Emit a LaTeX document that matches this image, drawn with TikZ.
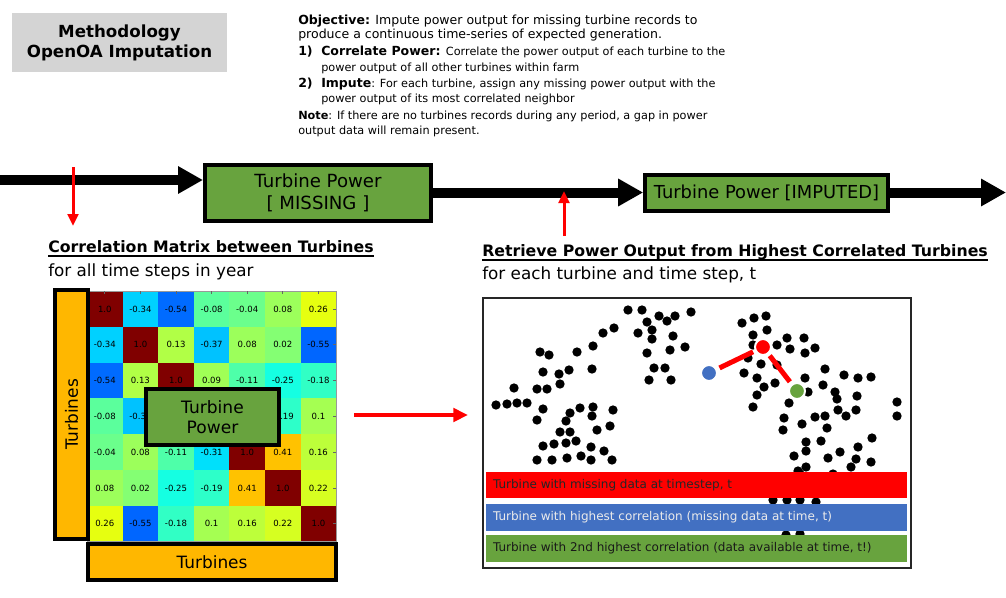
\documentclass[tikz,border=0pt]{standalone}
\usepackage{fontspec}
\setmainfont{DejaVu Sans}
\usetikzlibrary{arrows.meta}
\definecolor{ttlgray}{RGB}{212,212,212}
\definecolor{bxgreen}{RGB}{104,163,62}
\definecolor{bxorange}{RGB}{255,183,0}
\definecolor{lgblue}{RGB}{66,112,194}
\definecolor{c10}{RGB}{128,0,0}
\definecolor{cm34}{RGB}{0,209,255}
\definecolor{cm54}{RGB}{0,107,255}
\definecolor{cm55}{RGB}{0,102,255}
\definecolor{cm08}{RGB}{91,255,156}
\definecolor{cm04}{RGB}{107,255,140}
\definecolor{cp08}{RGB}{156,255,91}
\definecolor{cp26}{RGB}{230,255,16}
\definecolor{cp13}{RGB}{177,255,70}
\definecolor{cm37}{RGB}{0,194,255}
\definecolor{cp02}{RGB}{132,255,115}
\definecolor{cm11}{RGB}{78,255,169}
\definecolor{cm25}{RGB}{21,255,226}
\definecolor{cm18}{RGB}{49,255,197}
\definecolor{cp09}{RGB}{160,255,86}
\definecolor{cm31}{RGB}{0,224,251}
\definecolor{cm19}{RGB}{45,255,201}
\definecolor{cp10}{RGB}{165,255,82}
\definecolor{cp41}{RGB}{255,194,0}
\definecolor{cp16}{RGB}{189,255,58}
\definecolor{cp22}{RGB}{214,255,33}
\begin{document}
\begin{tikzpicture}[x=0.75pt,y=-0.75pt,
  txt/.style={inner sep=0pt, anchor=base west},
  objmain/.style={txt, font=\fontsize{9.4}{11}\selectfont},
  objsub/.style={txt, font=\fontsize{8.45}{10}\selectfont},
  bx/.style={draw=black, line width=3pt, inner sep=0pt, align=center},
  flow/.style={line width=7.5pt, -{Triangle[length=18.75pt,width=19.5pt]}},
  redarr/.style={draw=red, line width=2.25pt, -{Triangle[length=9pt,width=8pt]}},
  bigred/.style={draw=red, line width=3pt, -{Triangle[length=11pt,width=10pt]}},
  celltxt/.style={inner sep=0pt, font=\fontsize{6.4}{7}\selectfont},
  dot/.style={fill=black},
  hdr/.style={txt, font=\fontsize{11.8}{14}\selectfont\bfseries},
  subhdr/.style={txt, font=\fontsize{12.6}{14}\selectfont},
  lgbar/.style={inner sep=0pt, minimum width=315.75pt, minimum height=20pt},
  lgtxt/.style={inner sep=0pt, anchor=west, font=\fontsize{9}{10}\selectfont},
  cdot/.style={circle, draw=white, line width=1.5pt, inner sep=0pt, minimum size=12pt}
]
\useasboundingbox (0,0) rectangle (1006,597);
\fill[white] (0,0) rectangle (1006,597);

% title
\node[fill=ttlgray, minimum width=161.25pt, minimum height=44.25pt, inner sep=0pt, align=center,
  font=\fontsize{12.5}{15}\selectfont\bfseries] (title) at (119.5,42.5) {Methodology\\OpenOA Imputation};

% objective text
\node[objmain] (o1) at (298,24) {\textbf{Objective:} Impute power output for missing turbine records to};
\node[objmain] (o2) at (298,38.3) {produce a continuous time-series of expected generation.};
\node[objmain, font=\fontsize{9.4}{11}\selectfont\bfseries] (o3a) at (298,55.7) {1)};
\node[objmain] (o3) at (321,55.7) {\textbf{Correlate Power:} {\fontsize{8.45}{10}\selectfont Correlate the power output of each turbine to the}};
\node[objsub] (o4) at (321,71) {power output of all other turbines within farm};
\node[objmain, font=\fontsize{9.4}{11}\selectfont\bfseries] (o5a) at (298,87.3) {2)};
\node[objmain] (o5) at (321,87.3) {\textbf{Impute}{\fontsize{8.45}{10}\selectfont: For each turbine, assign any missing power output with the}};
\node[objsub] (o6) at (321,102.7) {power output of its most correlated neighbor};
\node[objsub] (o7) at (298,119.3) {\textbf{Note}: If there are no turbines records during any period, a gap in power};
\node[objsub] (o8) at (298,134.3) {output data will remain present.};

% flow boxes
\node[bx, fill=bxgreen, minimum width=169.5pt, minimum height=42pt, font=\fontsize{13.6}{16.5}\selectfont] (miss) at (318,193) {Turbine Power\\{}[ MISSING ]};
\node[bx, fill=bxgreen, minimum width=182pt, minimum height=27pt, font=\fontsize{13.4}{15}\selectfont] (imp) at (766.5,192.5) {Turbine Power [IMPUTED]};
\coordinate (fstart) at (0,180);
\coordinate (fend) at (1006,192.5);
\draw[flow] (fstart) -- (fstart -| miss.west);
\draw[flow] (miss.east |- imp.west) -- (imp.west);
\draw[flow] (imp.east) -- (fend);

% red vertical arrows
\coordinate (rd1) at (73,167);
\coordinate (rd2) at (73,226);
\draw[redarr] (rd1) -- (rd2);
\coordinate (ru1) at (564,236);
\coordinate (ru2) at (564,191);
\draw[redarr] (ru1) -- (ru2);

% headings
\node[hdr] (h1) at (48,252.7) {Correlation Matrix between Turbines};
\draw[line width=1.5pt] ([yshift=-2.4pt]h1.base west) -- ([yshift=-2.4pt]h1.base east);
\node[subhdr] (h1s) at (48,276) {for all time steps in year};
\node[hdr] (h2) at (482,256.7) {Retrieve Power Output from Highest Correlated Turbines};
\draw[line width=1.5pt] ([yshift=-2.4pt]h2.base west) -- ([yshift=-2.4pt]h2.base east);
\node[subhdr] (h2s) at (482,279) {for each turbine and time step, t};

% heatmap (labels fully hidden by the box are left empty)
\foreach \row [count=\i] in {
  {c10/1.0,cm34/-0.34,cm54/-0.54,cm08/-0.08,cm04/-0.04,cp08/0.08,cp26/0.26},
  {cm34/-0.34,c10/1.0,cp13/0.13,cm37/-0.37,cp08/0.08,cp02/0.02,cm55/-0.55},
  {cm54/-0.54,cp13/0.13,c10/1.0,cp09/0.09,cm11/-0.11,cm25/-0.25,cm18/-0.18},
  {cm08/-0.08,cm37/-0.37,cp09/{},c10/{},cm31/{},cm19/-0.19,cp10/0.1},
  {cm04/-0.04,cp08/0.08,cm11/-0.11,cm31/-0.31,c10/1.0,cp41/0.41,cp16/0.16},
  {cp08/0.08,cp02/0.02,cm25/-0.25,cm19/-0.19,cp41/0.41,c10/1.0,cp22/0.22},
  {cp26/0.26,cm55/-0.55,cm18/-0.18,cp10/0.1,cp16/0.16,cp22/0.22,c10/1.0}} {
  \foreach \cc/\vv [count=\j] in \row {
    \fill[\cc] ({87+(\j-1)*35.6},{291+(\i-1)*35.8}) rectangle ++(35.6,35.8);
    \node[celltxt] at ({87+(\j-0.5)*35.6},{291+(\i-0.5)*35.8}) {\vv};
  }
}
\draw[black!40, line width=0.5pt] (87,291) rectangle (336.2,541.6);
\foreach \j in {1,...,7} {
  \draw[black!60, line width=0.5pt] ({87+(\j-0.5)*35.6},291) -- ++(0,3);
  \draw[black!60, line width=0.5pt] (336.2,{291+(\j-0.5)*35.8}) -- ++(-3,0);
}

% axis boxes
\node[bx, fill=bxorange, minimum width=24.75pt, minimum height=186.75pt] (tl) at (71.5,414.5) {};
\node[rotate=90, font=\fontsize{12.7}{14}\selectfont] (tlt) at (tl.center) {Turbines};
\node[bx, fill=bxorange, minimum width=186pt, minimum height=27pt, font=\fontsize{12.7}{14}\selectfont] (tb) at (212,562) {Turbines};
\node[bx, fill=bxgreen, minimum width=99.75pt, minimum height=42pt, font=\fontsize{12.8}{15.5}\selectfont] (tp) at (212.5,417) {Turbine\\Power};

% arrow to scatter
\coordinate (ra1) at (354,415);
\coordinate (ra2) at (468,415);
\draw[bigred] (ra1) -- (ra2);

% scatter frame
\node[draw=black!85, line width=1.5pt, minimum width=321pt, minimum height=202.5pt, inner sep=0pt] (plot) at (697,433) {};

% dots
\foreach \p in {(628,310),(642,310),(659,316),(667,321),(675,316),(691,312),(647,322),(652,330),(638,333),(652,339),(673,336),(685,347),(670,350),(647,353),(614,328),(603,333),(593,346),(577,352),(540,352),(549,355),(543,372),(559,374),(569,370),(592,369),(560,384),(514,388),(537,389),(547,389),(496,405),(507,404),(517,403),(527,403),(543,409),(537,420),(570,413),(580,408),(593,407),(592,416),(613,410),(566,421),(560,432),(570,432),(597,430),(610,426),(543,446),(554,444),(566,443),(576,441),(591,447),(604,451),(537,460),(552,460),(567,458),(581,456),(591,460),(612,460),(654,368),(665,368),(649,380),(671,380),
(742,323),(754,318),(766,316),(767,330),(753,335),(753,345),(777,345),(787,338),(804,338),(790,349),(805,353),(815,348),(748,358),(761,364),(777,365),(744,373),(757,378),(764,387),(775,383),(805,378),(825,369),(844,375),(858,378),(871,377),(823,385),(835,392),(837,399),(857,396),(808,392),(757,395),(753,407),(789,403),(838,410),(846,416),(856,410),(784,418),(802,424),(815,417),(825,416),(827,428),(783,430),(897,402),(897,416),(806,442),(821,441),(872,438),(858,447),(806,451),(794,456),(840,452),(828,458),(856,459),(871,462),(806,467),(798,471),(851,467),
(773,500),(787,500),(800,500),(816,502),(786,535),(800,534),(833,474),(800,474)}
  \fill[dot] \p circle[radius=3.5pt];

% highlighted turbines
\node[cdot, fill=red] (rdot) at (763,347) {};
\node[cdot, fill=lgblue] (bdot) at (709,373) {};
\node[cdot, fill=bxgreen] (gdot) at (797,391) {};
\draw[red, line width=3.75pt, shorten <=1.5pt, shorten >=2pt] (rdot) -- (bdot);
\draw[red, line width=3.75pt, shorten <=1.5pt, shorten >=2pt] (rdot) -- (gdot);

% legend
\node[lgbar, fill=red] (lr) at (696.5,485) {};
\node[lgtxt, text=black!85] (lrt) at ([xshift=5.25pt]lr.west) {Turbine with missing data at timestep, t};
\node[lgbar, fill=lgblue] (lb) at (696.5,517.5) {};
\node[lgtxt, text=white!92!black] (lbt) at ([xshift=5.25pt]lb.west) {Turbine with highest correlation (missing data at time, t)};
\node[lgbar, fill=bxgreen] (lg) at (696.5,548.5) {};
\node[lgtxt, text=black!90] (lgt) at ([xshift=5.25pt]lg.west) {Turbine with 2nd highest correlation (data available at time, t!)};
\end{tikzpicture}
\end{document}
